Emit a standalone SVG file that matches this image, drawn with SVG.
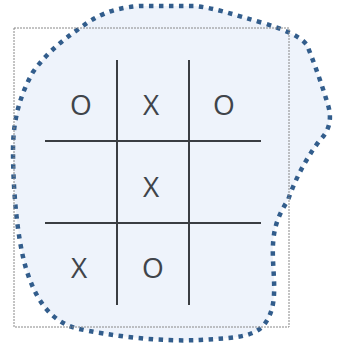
<svg xmlns="http://www.w3.org/2000/svg" width="343" height="345" viewBox="0 0 343 345">
<style>
.grid{stroke:#3a3d42;stroke-width:2;fill:none}
.mark{font-family:"Open Sans","Liberation Sans",sans-serif;font-size:28px;fill:#40444a;text-anchor:middle}
</style>
<g id="blob">
<path d="M 13 150 C 13 120, 20 95, 33 72 C 45 55, 60 42, 80 28 C 95 17, 110 8, 140 6 L 195 6 C 215 8, 235 15, 263 23 C 285 30, 300 36, 307 45 C 315 65, 322 85, 328 105 C 332 118, 330 130, 320 140 C 305 160, 295 180, 288 200 C 275 220, 272 235, 273 260 C 274 285, 278 310, 262 327 C 250 338, 230 338, 200 340 C 160 342, 110 336, 75 328 C 50 320, 35 300, 25 265 C 17 235, 13 190, 13 150 Z" fill="#eef3fb" stroke="#325d8c" stroke-width="4.5" stroke-dasharray="4.5 5.5"/>
</g>
<g id="frame">
<rect x="14" y="28" width="275" height="299" fill="none" stroke="#888" stroke-width="1" stroke-dasharray="2 1"/>
</g>
<g id="grid">
<line class="grid" x1="117" y1="60" x2="117" y2="305"/>
<line class="grid" x1="189" y1="60" x2="189" y2="305"/>
<line class="grid" x1="45" y1="141" x2="261" y2="141"/>
<line class="grid" x1="45" y1="223" x2="261" y2="223"/>
</g>
<g id="marks">
<text class="mark" x="81" y="115">O</text>
<text class="mark" x="151" y="115">X</text>
<text class="mark" x="224" y="115">O</text>
<text class="mark" x="151" y="197">X</text>
<text class="mark" x="79" y="278">X</text>
<text class="mark" x="153" y="278">O</text>
</g>
</svg>
